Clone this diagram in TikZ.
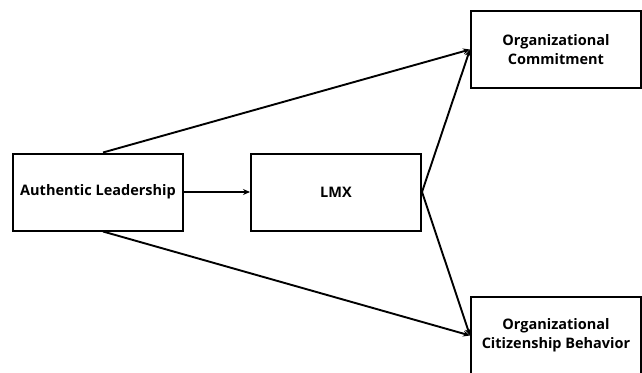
\documentclass[tikz,border=0pt]{standalone}
\usepackage{fontspec}
\setmainfont{Open Sans}
\usepackage{tikz}
\usetikzlibrary{arrows.meta,positioning,calc}

\begin{document}
\begin{tikzpicture}[
  x=1pt, y=-1pt,
  >={Stealth[length=7pt, width=6pt]},
  var/.style={rectangle, draw=black, line width=2pt, fill=white,
              minimum width=170pt, minimum height=77pt, align=center,
              font=\bfseries\fontsize{14.5}{19}\selectfont},
  tr/.style={->, line width=1.9pt, draw=black},
]
\useasboundingbox (0,0) rectangle (642,372);

\node[var] (al)  at (98,192)    {Authentic Leadership};
\node[var] (lmx) at (336,192)   {LMX};
\node[var] (oc)  at (556,49.5)  {Organizational\\Commitment};
\node[var] (ocb) at (556,335.5) {Organizational\\Citizenship Behavior};

\draw[tr] (al) -- (lmx);
\draw[tr] ([xshift=5pt]al.north) -- (oc.west);
\draw[tr] ([xshift=5pt]al.south) -- (ocb.west);
\draw[tr] (lmx.east) -- (oc.west);
\draw[tr] (lmx.east) -- (ocb.west);

\end{tikzpicture}
\end{document}
